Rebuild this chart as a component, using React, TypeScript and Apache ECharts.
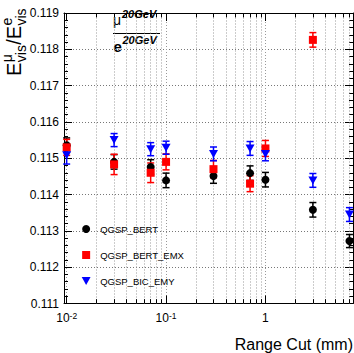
import React, { useEffect, useRef } from 'react';
import * as echarts from 'echarts';

const FONT = '"Liberation Sans", Arial, Helvetica, sans-serif';

// Range cuts (mm)
const rangeCuts = [0.01, 0.03, 0.07, 0.1, 0.3, 0.7, 1, 3, 7];
const emxCuts = [0.01, 0.03, 0.07, 0.1, 0.3, 0.7, 1, 3];

// QGSP_BERT
const bertValues = [0.11536, 0.1149, 0.11476, 0.11439, 0.11451, 0.11459, 0.11441, 0.11358, 0.11272];
const bertErrors = [0.0002, 0.0002, 0.0002, 0.0002, 0.0002, 0.0002, 0.0002, 0.0002, 0.00018];
// QGSP_BERT_EMX
const emxValues = [0.1153, 0.11483, 0.1146, 0.1149, 0.1147, 0.1143, 0.11527, 0.11826];
const emxErrors = [0.00022, 0.00028, 0.00027, 0.00022, 0.00024, 0.00022, 0.00022, 0.0002];
// QGSP_BIC_EMY
const emyValues = [0.11508, 0.1155, 0.11525, 0.11529, 0.11512, 0.11527, 0.11512, 0.11439, 0.11345];
const emyErrors = [0.00024, 0.00018, 0.00018, 0.00018, 0.00019, 0.00019, 0.00019, 0.00019, 0.00019];

const seriesNames = ['QGSP_BERT', 'QGSP_BERT_EMX', 'QGSP_BIC_EMY'];
const seriesColors = ['#000000', '#ff0000', '#0000ff'];

// axes
const yMin = 0.111;
const yMax = 0.119;
const yStep = 0.001;
const xMin = 0.0094;
const xMax = 7.6;
const minorCuts = [
  0.02, 0.03, 0.04, 0.05, 0.06, 0.07, 0.08, 0.09,
  0.2, 0.3, 0.4, 0.5, 0.6, 0.7, 0.8, 0.9,
  2, 3, 4, 5, 6, 7,
];

const TRI_DOWN = 'path://M0,0L10,0L5,9Z';
const SQUARE = 'path://M0,0L10,0L10,10L0,10Z';

function errSeries(name: string, color: string, xs: number[], ys: number[], es: number[], extra: any = {}) {
  return {
    type: 'custom',
    name,
    xAxisIndex: 0,
    yAxisIndex: 0,
    data: xs.map((x, i) => [x, ys[i], es[i]]),
    encode: { x: 0, y: 1 },
    silent: true,
    renderItem: (_params: any, api: any) => {
      const x = api.value(0);
      const y = api.value(1);
      const e = api.value(2);
      const top = api.coord([x, y + e]);
      const bot = api.coord([x, y - e]);
      const style = { stroke: color, lineWidth: 1.5, fill: 'none' };
      const c = 3.5;
      return {
        type: 'group',
        children: [
          { type: 'line', shape: { x1: top[0], y1: top[1], x2: bot[0], y2: bot[1] }, style },
          { type: 'line', shape: { x1: top[0] - c, y1: top[1], x2: top[0] + c, y2: top[1] }, style },
          { type: 'line', shape: { x1: bot[0] - c, y1: bot[1], x2: bot[0] + c, y2: bot[1] }, style },
        ],
      };
    },
    ...extra,
  };
}

function scatterSeries(name: string, color: string, xs: number[], ys: number[], symbol: string, size: any) {
  return {
    type: 'scatter',
    name,
    xAxisIndex: 0,
    yAxisIndex: 0,
    data: xs.map((x, i) => [x, ys[i]]),
    symbol,
    symbolSize: size,
    itemStyle: { color, opacity: 1 },
    silent: true,
  };
}

function xLabel(v: number) {
  const l = Math.log10(v);
  const e = Math.round(l);
  if (Math.abs(l - e) > 1e-6) return '';
  if (e === 0) return '1';
  if (e === 1) return '10';
  return '10{sup|' + e + '}';
}

// rotated y-axis title pieces
const Y_TITLE_BASE_X = 20.5;
const Y_TITLE_BASE_Y = 76;
function yTitlePiece(text: string, along: number, across: number, size: number) {
  return {
    type: 'text',
    x: Y_TITLE_BASE_X + across,
    y: Y_TITLE_BASE_Y - along,
    rotation: Math.PI / 2,
    silent: true,
    style: { text, fontSize: size, fontFamily: FONT, fill: '#000', align: 'left', verticalAlign: 'middle' },
  };
}

export default function App() {
  const ref = useRef<HTMLDivElement>(null);
  useEffect(() => {
    if (!ref.current) return;
    const chart = echarts.init(ref.current, undefined, { renderer: 'svg' });

    const gridStyle = { type: [1, 2], color: '#999', width: 1 };
    const tickStyle = { type: 'solid', color: '#000', width: 1 };
    const tickLen = 0.00012;
    const markData: any[] = [];
    minorCuts.forEach((v) => {
      markData.push({ xAxis: v, lineStyle: gridStyle });
    });
    minorCuts.forEach((v) => {
      markData.push([
        { coord: [v, yMin], lineStyle: tickStyle },
        { coord: [v, yMin + tickLen], lineStyle: tickStyle },
      ]);
      markData.push([
        { coord: [v, yMax], lineStyle: tickStyle },
        { coord: [v, yMax - tickLen], lineStyle: tickStyle },
      ]);
    });

    const axisLine = { show: true, onZero: false, lineStyle: { color: '#000', width: 1 } };

    const option: any = {
      animation: false,
      backgroundColor: '#ffffff',
      textStyle: { fontFamily: FONT },
      grid: { left: 64, top: 13, width: 289, height: 290.5, containLabel: false },
      xAxis: [
        {
          type: 'log',
          logBase: 10,
          min: xMin,
          max: xMax,
          position: 'bottom',
          axisLine,
          axisTick: { show: true, inside: true, length: 8, lineStyle: { color: '#000' } },
          axisLabel: {
            show: true,
            showMinLabel: false,
            showMaxLabel: false,
            margin: 8,
            color: '#000',
            fontFamily: FONT,
            fontSize: 12,
            formatter: xLabel,
            rich: {
              sup: { fontSize: 8.5, fontFamily: FONT, color: '#000', verticalAlign: 'top', lineHeight: 8 },
            },
          },
          splitLine: { show: true, lineStyle: gridStyle },
        },
        {
          type: 'log',
          logBase: 10,
          min: xMin,
          max: xMax,
          position: 'top',
          axisLine,
          axisTick: { show: true, inside: true, length: 8, lineStyle: { color: '#000' } },
          axisLabel: { show: false },
          splitLine: { show: false },
        },
      ],
      yAxis: [
        {
          type: 'value',
          min: yMin,
          max: yMax,
          interval: yStep,
          position: 'left',
          axisLine,
          axisTick: { show: true, inside: true, length: 8, lineStyle: { color: '#000' } },
          minorTick: { show: true, splitNumber: 5, length: 4, lineStyle: { color: '#000' } },
          axisLabel: {
            show: true,
            margin: 5,
            color: '#000',
            fontFamily: FONT,
            fontSize: 12,
            formatter: (v: number) => v.toFixed(3),
          },
          splitLine: { show: true, lineStyle: { type: [1, 2], color: '#777', width: 1 } },
        },
        {
          type: 'value',
          min: yMin,
          max: yMax,
          interval: yStep,
          position: 'right',
          axisLine,
          axisTick: { show: true, inside: true, length: 8, lineStyle: { color: '#000' } },
          minorTick: { show: true, splitNumber: 5, length: 4, lineStyle: { color: '#000' } },
          axisLabel: { show: false },
          splitLine: { show: false },
        },
      ],
      legend: {
        show: true,
        orient: 'vertical',
        left: 81.7,
        top: 224,
        padding: 0,
        itemWidth: 18,
        itemHeight: 8,
        itemGap: 16,
        symbolKeepAspect: true,
        selectedMode: false,
        textStyle: { fontFamily: FONT, fontSize: 9.5, color: '#000', lineHeight: 8 },
        data: [
          { name: seriesNames[0], icon: 'circle' },
          { name: seriesNames[1], icon: SQUARE },
          { name: seriesNames[2], icon: TRI_DOWN },
        ],
      },
      graphic: [
        // y axis title  E^mu_vis / E^e_vis (rotated)
        yTitlePiece('E', 0, -7, 20),
        yTitlePiece('μ', 13.8, -14, 14),
        yTitlePiece('vis', 13.8, 0, 14),
        yTitlePiece('/', 31.2, -7, 20),
        yTitlePiece('E', 36.8, -7, 20),
        yTitlePiece('e', 50.5, -14, 14),
        yTitlePiece('vis', 50.5, 0, 14),
        // fraction title
        { type: 'text', x: 113, y: 20, silent: true, style: { text: 'μ', fontSize: 14, fontFamily: FONT, fill: '#000', align: 'left', verticalAlign: 'middle' } },
        { type: 'text', x: 122, y: 14, silent: true, style: { text: '20GeV', fontSize: 11, fontWeight: 'bold', fontStyle: 'italic', fontFamily: FONT, fill: '#000', align: 'left', verticalAlign: 'middle' } },
        { type: 'line', silent: true, shape: { x1: 113, y1: 33.5, x2: 160, y2: 33.5 }, style: { stroke: '#000', lineWidth: 1 } },
        { type: 'text', x: 113.5, y: 46.7, silent: true, style: { text: 'e', fontSize: 15, fontWeight: 'bold', fontFamily: FONT, fill: '#000', align: 'left', verticalAlign: 'middle' } },
        { type: 'text', x: 122.5, y: 39.5, silent: true, style: { text: '20GeV', fontSize: 11, fontWeight: 'bold', fontStyle: 'italic', fontFamily: FONT, fill: '#000', align: 'left', verticalAlign: 'middle' } },
        // x axis title
        { type: 'text', x: 353, y: 344, silent: true, style: { text: 'Range Cut (mm)', fontSize: 16, fontFamily: FONT, fill: '#000', align: 'right', verticalAlign: 'middle' } },
      ],
      series: [
        errSeries('err_bert', seriesColors[0], rangeCuts, bertValues, bertErrors, {
          markLine: {
            silent: true,
            z: 1,
            symbol: ['none', 'none'],
            label: { show: false },
            animation: false,
            data: markData,
          },
        }),
        scatterSeries(seriesNames[0], seriesColors[0], rangeCuts, bertValues, 'circle', 8),
        errSeries('err_emx', seriesColors[1], emxCuts, emxValues, emxErrors),
        scatterSeries(seriesNames[1], seriesColors[1], emxCuts, emxValues, 'rect', 8),
        errSeries('err_emy', seriesColors[2], rangeCuts, emyValues, emyErrors),
        scatterSeries(seriesNames[2], seriesColors[2], rangeCuts, emyValues, TRI_DOWN, [9, 8]),
      ],
    };
    chart.setOption(option);
    return () => chart.dispose();
  }, []);

  return (
    <div
      ref={ref}
      style={{ position: 'fixed', left: 0, top: 0, width: 354, height: 353, background: '#fff' }}
    />
  );
}
